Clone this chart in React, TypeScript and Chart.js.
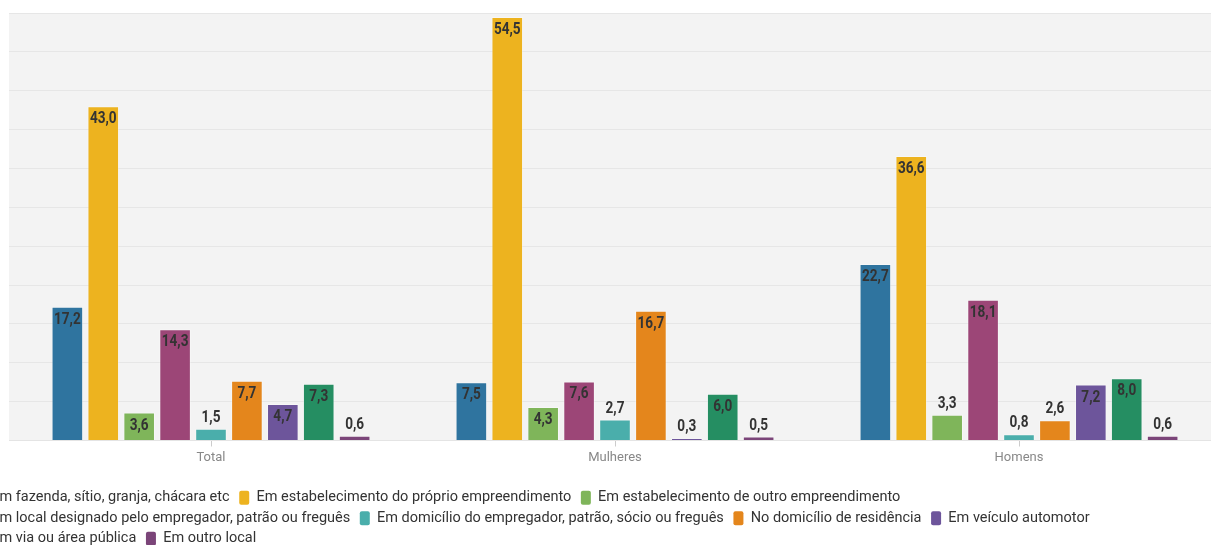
import React, { useEffect, useRef } from "react";
import { Chart, registerables } from "chart.js";

Chart.register(...registerables);

const categories = ["Total", "Mulheres", "Homens"];

const seriesNames = [
  "Em fazenda, sítio, granja, chácara etc",
  "Em estabelecimento do próprio empreendimento",
  "Em estabelecimento de outro empreendimento",
  "Em local designado pelo empregador, patrão ou freguês",
  "Em domicílio do empregador, patrão, sócio ou freguês",
  "No domicílio de residência",
  "Em veículo automotor",
  "Em via ou área pública",
  "Em outro local",
];

const seriesColors = [
  "#2f749f",
  "#edb31f",
  "#7fb55a",
  "#9c4677",
  "#4aaeab",
  "#e4861c",
  "#6d559b",
  "#258e62",
  "#7b4579",
];

const fazenda = [17.2, 7.5, 22.7];
const proprioEmpreendimento = [43.0, 54.5, 36.6];
const outroEmpreendimento = [3.6, 4.3, 3.3];
const localDesignado = [14.3, 7.6, 18.1];
const domicilioEmpregador = [1.5, 2.7, 0.8];
const domicilioResidencia = [7.7, 16.7, 2.6];
const veiculo = [4.7, 0.3, 7.2];
const viaPublica = [7.3, 6.0, 8.0];
const outroLocal = [0.6, 0.5, 0.6];

const seriesValues = [
  fazenda,
  proprioEmpreendimento,
  outroEmpreendimento,
  localDesignado,
  domicilioEmpregador,
  domicilioResidencia,
  veiculo,
  viaPublica,
  outroLocal,
];

const yMin = 0;
const yMax = 55;
const yStep = 5;

const plotBackground = {
  id: "plotBackground",
  beforeDraw(chart: any) {
    const { ctx, chartArea } = chart;
    ctx.save();
    ctx.fillStyle = "#f3f3f3";
    ctx.fillRect(chartArea.left, chartArea.top, chartArea.right - chartArea.left, chartArea.bottom - chartArea.top);
    ctx.restore();
  },
};

const barLabels = {
  id: "barLabels",
  afterDatasetsDraw(chart: any) {
    const { ctx } = chart;
    chart.data.datasets.forEach((ds: any, di: number) => {
      const meta = chart.getDatasetMeta(di);
      meta.data.forEach((el: any, i: number) => {
        const v = ds.data[i];
        const h = el.base - el.y;
        const text = v.toFixed(1).replace(".", ",");
        const y = h >= 27 ? el.y + 17 : el.y - 7;
        ctx.save();
        ctx.font = "bold 16px Roboto, sans-serif";
        ctx.fillStyle = "#333333";
        ctx.textAlign = "center";
        ctx.textBaseline = "alphabetic";
        ctx.translate(el.x, y);
        ctx.scale(0.85, 1);
        ctx.fillText(text, 0, 0);
        ctx.restore();
      });
    });
  },
};

export default function App() {
  const ref = useRef<HTMLCanvasElement>(null);

  useEffect(() => {
    if (!ref.current) return;
    const chart = new Chart(ref.current, {
      type: "bar",
      data: {
        labels: categories,
        datasets: seriesNames.map((name, i) => ({
          label: name,
          data: seriesValues[i],
          backgroundColor: seriesColors[i],
          borderColor: "rgba(255,255,255,0.35)",
          borderWidth: 1,
          barPercentage: 0.88,
          categoryPercentage: 0.8,
        })),
      },
      options: {
        animation: false,
        responsive: true,
        maintainAspectRatio: false,
        layout: { padding: { top: 13, left: 0, right: 0, bottom: 0 } },
        plugins: {
          tooltip: { enabled: false },
          legend: {
            position: "bottom",
            align: "start",
            labels: {
              boxWidth: 10,
              boxHeight: 14,
              padding: 6,
              useBorderRadius: true,
              borderRadius: 2,
              color: "#333333",
              font: { family: "Roboto", size: 14.5 },
              generateLabels: (c: any) => {
                const items = (Chart.defaults.plugins.legend.labels as any).generateLabels(c);
                return items.map((it: any) => ({
                  ...it,
                  text: it.text + " ",
                  lineWidth: 0,
                  strokeStyle: it.fillStyle,
                }));
              },
            },
          },
        },
        scales: {
          x: {
            grid: {
              display: true,
              drawOnChartArea: false,
              drawTicks: true,
              tickLength: 6,
              offset: false,
              color: "#cccccc",
            },
            border: { display: true, color: "#e4e4e4" },
            ticks: {
              color: "#888888",
              padding: 3,
              font: { family: "Roboto", size: 13 },
            },
            afterFit: (s: any) => {
              s.height = 44;
            },
          },
          y: {
            min: yMin,
            max: yMax,
            ticks: { display: false, stepSize: yStep },
            grid: { color: "#e6e6e6", drawTicks: false },
            border: { display: false },
            afterFit: (s: any) => {
              s.width = 41;
            },
          },
        },
      },
      plugins: [plotBackground, barLabels],
    });
    return () => chart.destroy();
  }, []);

  return (
    <div
      style={{
        position: "fixed",
        left: 0,
        top: 0,
        width: 1211,
        height: 545,
        overflow: "hidden",
        background: "#ffffff",
      }}
    >
      <div style={{ position: "absolute", left: -32, top: 0, width: 1253, height: 556 }}>
        <canvas ref={ref} />
      </div>
    </div>
  );
}
